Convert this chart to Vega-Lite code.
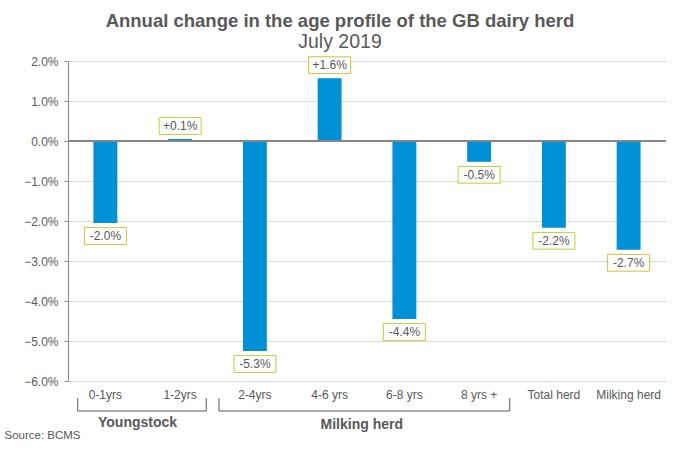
{
  "$schema": "https://vega.github.io/schema/vega-lite/v6.json",
  "width": 598,
  "height": 320,
  "autosize": {"type": "none"},
  "padding": {"left": 68, "top": 61, "right": 14, "bottom": 73},
  "background": "white",
  "config": {
    "font": "Liberation Sans",
    "view": {"stroke": null}
  },
  "title": {
    "text": "Annual change in the age profile of the GB dairy herd",
    "subtitle": "July 2019",
    "anchor": "middle",
    "dx": -27,
    "offset": 3,
    "font": "Liberation Sans",
    "fontSize": 18.5,
    "fontWeight": "bold",
    "color": "#595959",
    "subtitleFont": "Liberation Sans",
    "subtitleFontSize": 19.5,
    "subtitleColor": "#595959",
    "subtitlePadding": 3
  },
  "datasets": {
    "bars": [
      {"cat": "0-1yrs", "value": -2.05, "label": "-2.0%"},
      {"cat": "1-2yrs", "value": 0.05, "label": "+0.1%"},
      {"cat": "2-4yrs", "value": -5.25, "label": "-5.3%"},
      {"cat": "4-6 yrs", "value": 1.57, "label": "+1.6%"},
      {"cat": "6-8 yrs", "value": -4.45, "label": "-4.4%"},
      {"cat": "8 yrs +", "value": -0.52, "label": "-0.5%"},
      {"cat": "Total herd", "value": -2.17, "label": "-2.2%"},
      {"cat": "Milking herd", "value": -2.72, "label": "-2.7%"}
    ],
    "brackets": [
      {"group": "Youngstock", "pos": 0.13, "level": -6.43, "order": 1},
      {"group": "Youngstock", "pos": 0.13, "level": -6.75, "order": 2},
      {"group": "Youngstock", "pos": 1.85, "level": -6.75, "order": 3},
      {"group": "Youngstock", "pos": 1.85, "level": -6.43, "order": 4},
      {"group": "Milking herd", "pos": 2.02, "level": -6.43, "order": 1},
      {"group": "Milking herd", "pos": 2.02, "level": -6.75, "order": 2},
      {"group": "Milking herd", "pos": 5.91, "level": -6.75, "order": 3},
      {"group": "Milking herd", "pos": 5.91, "level": -6.43, "order": 4}
    ],
    "groups": [
      {"group": "Youngstock", "pos": 0.93, "level": -7.04},
      {"group": "Milking herd", "pos": 3.93, "level": -7.09}
    ],
    "source": [
      {"text": "Source:  BCMS", "pos": -0.85, "level": -7.37}
    ]
  },
  "resolve": {"scale": {"x": "independent", "y": "independent"}},
  "layer": [
    {
      "data": {"name": "bars"},
      "encoding": {
        "x": {
          "field": "cat",
          "type": "nominal",
          "sort": null,
          "scale": {"paddingInner": 0.68, "paddingOuter": 0.34},
          "axis": {
            "title": null,
            "domain": false,
            "ticks": false,
            "labelAngle": 0,
            "labelFont": "Liberation Sans",
            "labelFontSize": 12,
            "labelColor": "#595959",
            "labelPadding": 8
          }
        },
        "y": {
          "field": "value",
          "type": "quantitative",
          "scale": {"domain": [-6, 2], "nice": false, "zero": false},
          "axis": {
            "title": null,
            "values": [-6, -5, -4, -3, -2, -1, 0, 1, 2],
            "labelOverlap": false,
            "labelExpr": "format(datum.value, '.1f') + '%'",
            "labelFont": "Liberation Sans",
            "labelFontSize": 12,
            "labelColor": "#595959",
            "labelPadding": 6,
            "domainColor": "#868686",
            "tickColor": "#868686",
            "tickSize": 4,
            "gridColor": "#d9d9d9",
            "grid": true
          }
        }
      },
      "layer": [
        {
          "mark": {"type": "bar", "color": "#0090D5"}
        },
        {
          "mark": {"type": "rule", "color": "#868686", "strokeWidth": 1},
          "encoding": {"y": {"datum": 0}, "x": null}
        },
        {
          "transform": [{"filter": "datum.value < 0"}],
          "layer": [
            {
              "mark": {"type": "point", "shape": "M-1,-0.4H1V0.4H-1Z", "size": 1764, "filled": true, "fill": "white", "stroke": "#c8c83a", "strokeWidth": 1, "opacity": 1, "yOffset": 13}
            },
            {
              "mark": {"type": "text", "yOffset": 13, "fontSize": 12, "color": "#595959", "baseline": "middle", "align": "center"},
              "encoding": {"text": {"field": "label"}}
            }
          ]
        },
        {
          "transform": [{"filter": "datum.value >= 0"}],
          "layer": [
            {
              "mark": {"type": "point", "shape": "M-1,-0.4H1V0.4H-1Z", "size": 1764, "filled": true, "fill": "white", "stroke": "#c8c83a", "strokeWidth": 1, "opacity": 1, "yOffset": -13}
            },
            {
              "mark": {"type": "text", "yOffset": -13, "fontSize": 12, "color": "#595959", "baseline": "middle", "align": "center"},
              "encoding": {"text": {"field": "label"}}
            }
          ]
        }
      ]
    },
    {
      "encoding": {
        "x": {"field": "pos", "type": "quantitative", "scale": {"domain": [0, 8], "nice": false, "zero": false}, "axis": null},
        "y": {"field": "level", "type": "quantitative", "scale": {"domain": [-6, 2], "nice": false, "zero": false}, "axis": null}
      },
      "layer": [
        {
          "data": {"name": "brackets"},
          "mark": {"type": "line", "color": "#595959", "strokeWidth": 1, "clip": false},
          "encoding": {
            "detail": {"field": "group"},
            "order": {"field": "order", "type": "quantitative"}
          }
        },
        {
          "data": {"name": "groups"},
          "mark": {"type": "text", "fontSize": 14, "fontWeight": "bold", "color": "#595959", "baseline": "middle", "align": "center"},
          "encoding": {"text": {"field": "group"}}
        },
        {
          "data": {"name": "source"},
          "mark": {"type": "text", "fontSize": 11.5, "color": "#595959", "baseline": "middle", "align": "left"},
          "encoding": {"text": {"field": "text"}}
        }
      ]
    }
  ]
}
